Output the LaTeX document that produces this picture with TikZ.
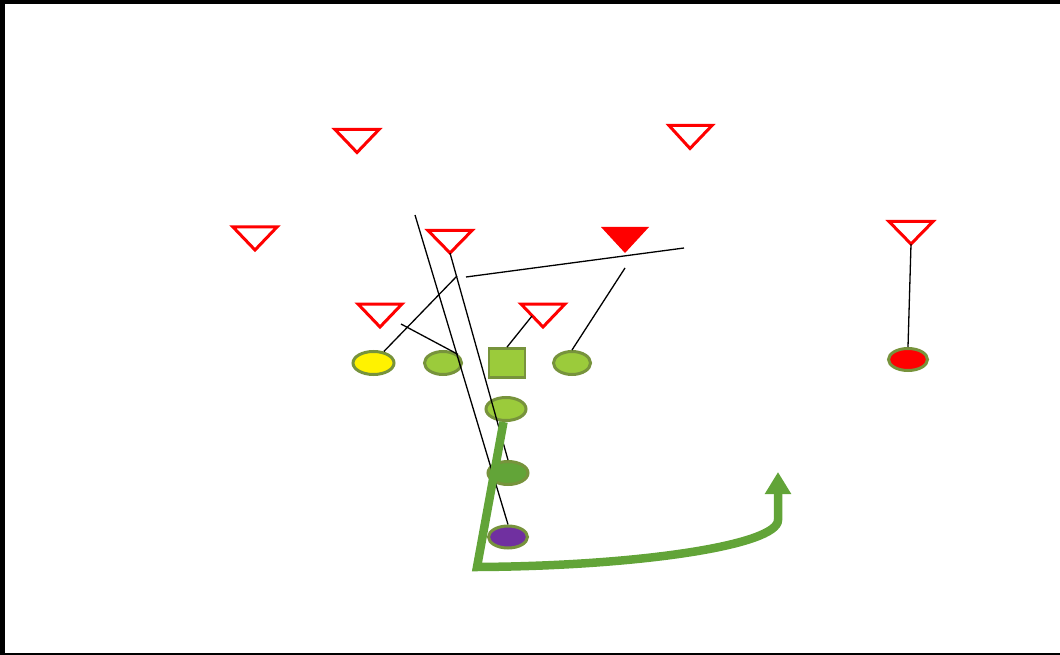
\documentclass[tikz,border=0pt]{standalone}
\usetikzlibrary{shapes.geometric,arrows.meta}
\definecolor{lgreen}{HTML}{9BCB3B}
\definecolor{olive}{HTML}{77933C}
\definecolor{dgreen}{HTML}{62A438}
\definecolor{route}{HTML}{62A438}
\definecolor{purp}{HTML}{7030A0}
\tikzset{
  player/.style={ellipse, draw=olive, line width=3pt, inner sep=0pt, minimum width=40pt, minimum height=23pt},
  defo/.style={draw=red, line width=3pt, line join=miter},
  link/.style={draw=black, line width=1.3pt},
  routeline/.style={draw=route, line width=8.5pt, line join=miter}
}
\newcommand{\deftri}[6]{% name, xl, xr, ytop, xapex, yapex
  \coordinate (#1-l) at (#2,#4);
  \coordinate (#1-r) at (#3,#4);
  \coordinate (#1) at (#5,#6);
}
\begin{document}
\begin{tikzpicture}[x=1pt,y=-1pt]
\useasboundingbox (0,0) rectangle (1060,655);
\fill[black] (0,0) rectangle (1060,4);
\fill[black] (0,0) rectangle (5,655);
\fill[black] (0,653) rectangle (1060,655);
% defenders
\deftri{t1}{335}{379}{129.5}{357}{152.5}
\deftri{t2}{233}{277}{227}{255}{250}
\deftri{t3}{669}{712}{125.5}{690}{148.5}
\deftri{t4}{428}{472}{230.5}{450}{253}
\deftri{t6}{358}{402}{304}{380}{327}
\deftri{t7}{521}{565}{304}{543}{327}
\deftri{t8}{889}{933}{221.5}{911}{244}
\foreach \t in {t1,t2,t3,t4,t6,t7,t8}{
  \draw[defo] (\t-l) -- (\t-r) -- (\t) -- cycle;
}
\deftri{t5}{601}{649}{227}{625}{253}
\fill[red] (t5-l) -- (t5-r) -- (t5) -- cycle;
% offense
\node[player, fill=yellow, minimum width=41pt] (yel) at (373.5,363) {};
\node[player, fill=lgreen, minimum width=37pt] (lg1) at (443,363) {};
\node[draw=olive, fill=lgreen, line width=2.8pt, minimum width=36pt, minimum height=29pt, inner sep=0pt] (ctr) at (507,363) {};
\node[player, fill=lgreen, minimum width=37pt] (lg2) at (572,363) {};
\node[player, fill=lgreen] (qb) at (506,409) {};
\node[player, fill=dgreen] (rb) at (508,473) {};
\node[player, fill=purp, minimum width=39pt, minimum height=22pt] (pb) at (508,537) {};
\node[player, fill=red, minimum width=39pt, minimum height=22pt] (wr) at (908,359.5) {};
% free ends
\coordinate (a1) at (415,215);
\coordinate (a3) at (466,277);
\coordinate (b3) at (684,248);
\coordinate (a4) at (457,276);
\coordinate (a5) at (401,324);
\coordinate (a6) at (532,316);
\coordinate (a7) at (625,268);
% links
\draw[link] (a1) -- (pb.north);
\draw[link] (t4) -- (rb.north);
\draw[link] (a3) -- (b3);
\draw[link] (yel.48) -- (a4);
\draw[link] (a5) -- (lg1.30);
\draw[link] (a6) -- (ctr.north);
\draw[link] (a7) -- (lg2.north);
\draw[link] (t8) -- (wr.north);
% route
\coordinate (r0) at (503.5,422);
\coordinate (r1) at (477,567);
\coordinate (r2) at (778,520);
\coordinate (r3) at (778,472);
\draw[routeline, -{Triangle[width=25pt,length=22pt]}] (r0) -- (r1) .. controls (640,566) and (778,545) .. (r2) -- (r3);
\end{tikzpicture}
\end{document}
